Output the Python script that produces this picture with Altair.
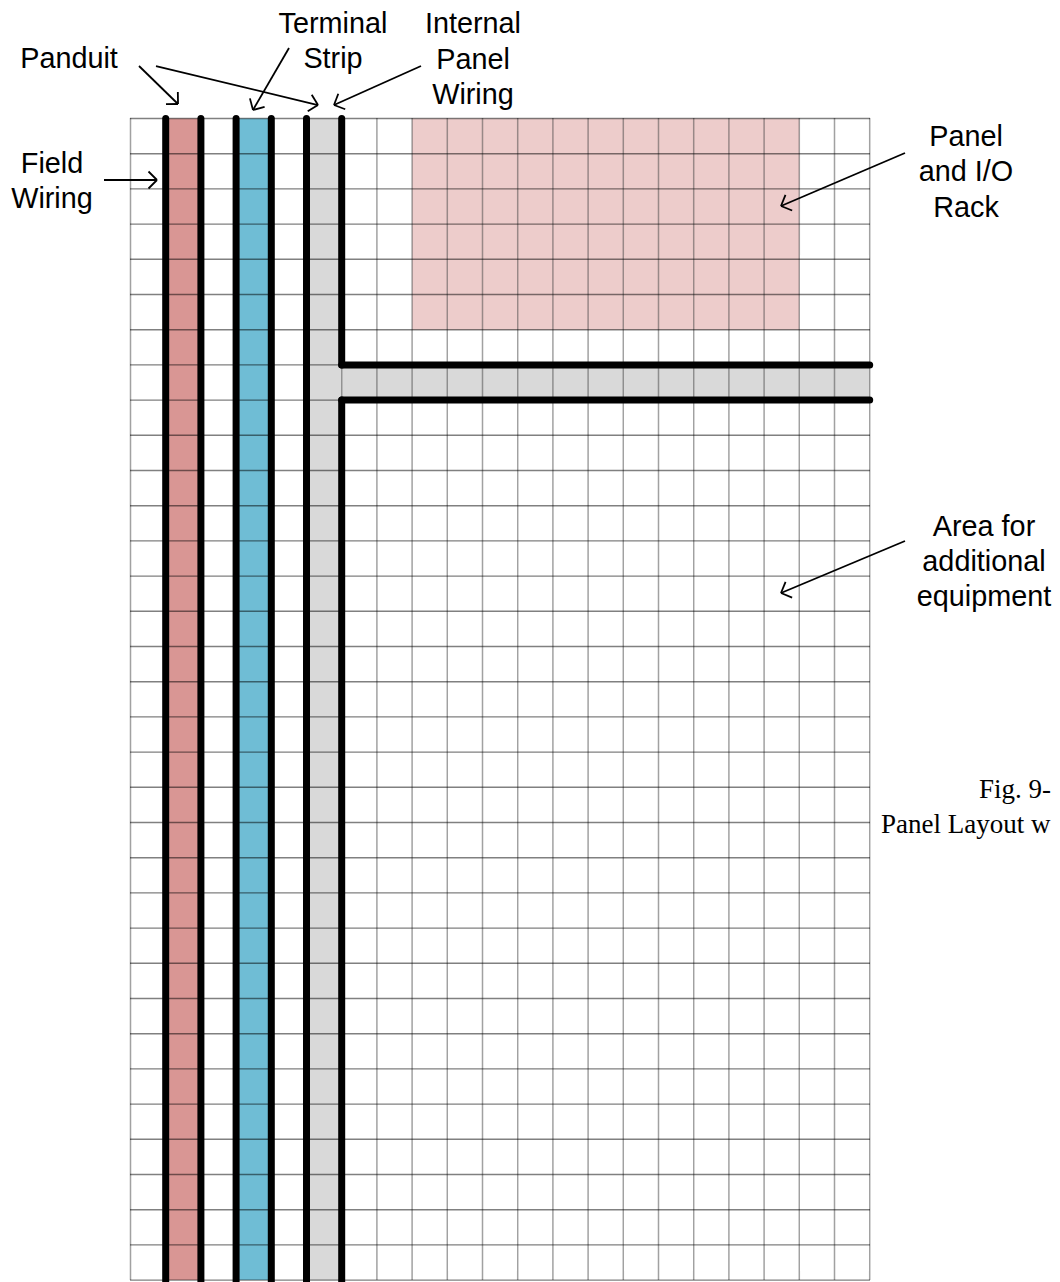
import altair as alt
import pandas as pd

# Grid geometry on the page
X0, Y0, CELL = 130.5, 118.5, 35.2
PAGE_LEFT, PAGE_TOP = 8, 8
W, H = 1044, 1274


def gx(p):
    return (p - X0) / CELL


def gy(p):
    return (p - Y0) / CELL


N_COLS = 21
N_ROWS = 33

# Filled regions, in grid cells: x, x2, y, y2, colour
fill_x = [1, 3, 5, 6, 8]
fill_x2 = [2, 4, 6, 21, 19]
fill_y = [0, 0, 0, 7, 0]
fill_y2 = [33, 33, 33, 8, 6]
fill_c = ["#D99694", "#6FBDD5", "#D9D9D9", "#D9D9D9", "#EDCCCB"]

# Thick black wiring ducts, in grid cells
duct_x = [1, 2, 3, 4, 5, 6, 6, 6, 6]
duct_x2 = [1, 2, 3, 4, 5, 6, 6, 21, 21]
duct_y = [0, 0, 0, 0, 0, 0, 8, 7, 8]
duct_y2 = [33.3, 33.3, 33.3, 33.3, 33.3, 7, 33.3, 7, 8]

# Arrows: start and tip (page pixels, converted to grid cells)
arrow_x1 = [139, 156, 289, 421, 104, 905, 905]
arrow_y1 = [66, 66, 48, 66, 180, 153, 541]
arrow_x2 = [178, 318, 253, 334, 157, 781, 781]
arrow_y2 = [104, 105, 110, 105, 180, 206, 593]

# Labels: one row per text line
sans_text = ["Terminal", "Strip", "Internal", "Panel", "Wiring", "Panduit",
             "Field", "Wiring", "Panel", "and I/O", "Rack",
             "Area for", "additional", "equipment"]
sans_x = [333, 333, 473, 473, 473, 69, 52, 52, 966, 966, 966, 984, 984, 984]
sans_y = [24, 59, 24, 60, 95, 59, 164, 199, 137, 172, 208, 527, 562, 597]

serif_text = ["Fig. 9-", "Panel Layout w"]
serif_x = [979, 881]
serif_y = [790, 825]

xs = alt.Scale(domain=[gx(PAGE_LEFT), gx(PAGE_LEFT + W)], range=[0, W], nice=False, zero=False)
ys = alt.Scale(domain=[gy(PAGE_TOP), gy(PAGE_TOP + H)], range=[0, H], nice=False, zero=False)
X = lambda f: alt.X(f, type="quantitative", scale=xs, axis=None)
Y = lambda f: alt.Y(f, type="quantitative", scale=ys, axis=None)

fills = alt.Chart(pd.DataFrame(dict(x=fill_x, x2=fill_x2, y=fill_y, y2=fill_y2, c=fill_c))).mark_rect().encode(
    x=X("x"), x2="x2", y=Y("y"), y2="y2", color=alt.Color("c:N", scale=None))

v_grid = alt.Chart(pd.DataFrame(dict(x=list(range(N_COLS + 1)), y=[0] * (N_COLS + 1), y2=[N_ROWS] * (N_COLS + 1)))
                   ).mark_rule(color="#444444", strokeWidth=1.5, strokeDash=[1, 1]).encode(x=X("x"), y=Y("y"), y2="y2")
h_grid = alt.Chart(pd.DataFrame(dict(y=list(range(N_ROWS + 1)), x=[0] * (N_ROWS + 1), x2=[N_COLS] * (N_ROWS + 1)))
                   ).mark_rule(color="#000000", strokeWidth=1.4, strokeDash=[1, 1]).encode(y=Y("y"), x=X("x"), x2="x2")

ducts = alt.Chart(pd.DataFrame(dict(x=duct_x, x2=duct_x2, y=duct_y, y2=duct_y2))).mark_rule(
    color="black", strokeWidth=7, strokeCap="round").encode(x=X("x"), x2="x2", y=Y("y"), y2="y2")

shaft_rows = [dict(x=gx(a), x2=gx(c), y=gy(b), y2=gy(d))
              for a, b, c, d in zip(arrow_x1, arrow_y1, arrow_x2, arrow_y2)]
shafts = alt.Chart(pd.DataFrame(shaft_rows)).mark_rule(color="black", strokeWidth=1.8).encode(
    x=X("x"), x2="x2", y=Y("y"), y2="y2")

# Open arrow heads: two short strokes running back from each tip
head_rows = []
for a, b, c, d in zip(arrow_x1, arrow_y1, arrow_x2, arrow_y2):
    length = ((c - a) ** 2 + (d - b) ** 2) ** 0.5
    ux, uy = (c - a) / length, (d - b) / length
    back = 8.5
    side = 8.5
    for s in (-1, 1):
        wx = c - back * ux + s * side * (-uy)
        wy = d - back * uy + s * side * ux
        head_rows.append(dict(x=gx(c), x2=gx(wx), y=gy(d), y2=gy(wy)))
heads = alt.Chart(pd.DataFrame(head_rows)).mark_rule(color="black", strokeWidth=1.8).encode(
    x=X("x"), x2="x2", y=Y("y"), y2="y2")

sans = alt.Chart(pd.DataFrame(dict(t=sans_text, x=[gx(v) for v in sans_x], y=[gy(v) for v in sans_y]))).mark_text(
    font="Liberation Sans", fontSize=28.8, color="black", align="center", baseline="middle").encode(
    x=X("x"), y=Y("y"), text="t:N")

serif = alt.Chart(pd.DataFrame(dict(t=serif_text, x=[gx(v) for v in serif_x], y=[gy(v) for v in serif_y]))).mark_text(
    font="Liberation Serif", fontSize=27, color="black", align="left", baseline="middle").encode(
    x=X("x"), y=Y("y"), text="t:N")

chart = alt.layer(fills, v_grid, h_grid, ducts, shafts, heads, sans, serif).properties(
    width=W, height=H, padding=0, autosize=alt.AutoSizeParams(type="none"), background="white"
).configure_view(stroke=None)

chart.save("out.html", embed_options={"renderer": "svg", "actions": False})
